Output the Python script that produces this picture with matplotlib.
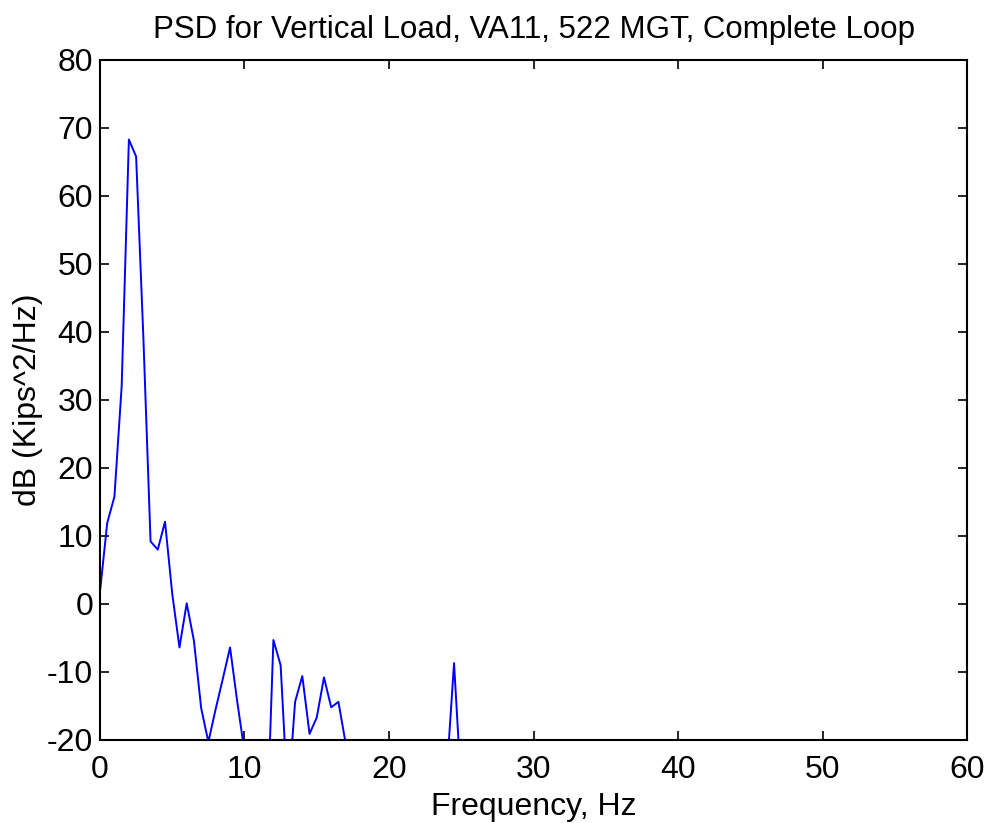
import numpy as np
import matplotlib
matplotlib.use("Agg")
import matplotlib.pyplot as plt

plt.rcParams["font.family"] = ["Liberation Sans", "DejaVu Sans"]
plt.rcParams["axes.unicode_minus"] = False

# frequency (Hz) and PSD (dB), 0.5 Hz steps
freq = np.arange(0, 25.5, 0.5)
psd_db = [1.8, 11.9, 15.8, 32.0, 68.3, 65.8, 39.3, 9.2, 8.0, 12.1,
          1.5, -6.4, 0.1, -5.4, -15.3, -20.3, -15.5, -11.0, -6.4, -14.4,
          -21.7, -30.0, -35.0, -36.6, -5.3, -9.0, -29.0, -14.4, -10.6, -19.1,
          -16.7, -10.8, -15.2, -14.4, -20.5, -30.0, -32.0, -31.0, -33.0, -30.0,
          -34.0, -31.0, -32.0, -30.0, -33.0, -31.0, -29.0, -30.0, -24.8, -8.7,
          -27.2]

fig = plt.figure(figsize=(9.89, 8.23), dpi=100)
ax = fig.add_axes([0.1011, 0.1009, 0.8767, 0.8262])

ax.plot(freq, psd_db, color="#0000ff", linewidth=1.4)

ax.set_xlim(0, 60)
ax.set_ylim(-20, 80)
ax.set_xticks(range(0, 61, 10))
ax.set_yticks(range(-20, 81, 10))
ax.tick_params(direction="in", length=6.5, width=1.2, labelsize=23,
               top=True, right=True)
ax.tick_params(axis="x", pad=11)
ax.tick_params(axis="y", pad=5)
for s in ax.spines.values():
    s.set_linewidth(1.5)

ax.set_title("PSD for Vertical Load, VA11, 522 MGT, Complete Loop",
             fontsize=22.5, pad=16)
ax.set_xlabel("Frequency, Hz", fontsize=23, labelpad=5)
ax.set_ylabel("dB (Kips^2/Hz)", fontsize=23, labelpad=3)

fig.savefig("out.png", dpi=100)
